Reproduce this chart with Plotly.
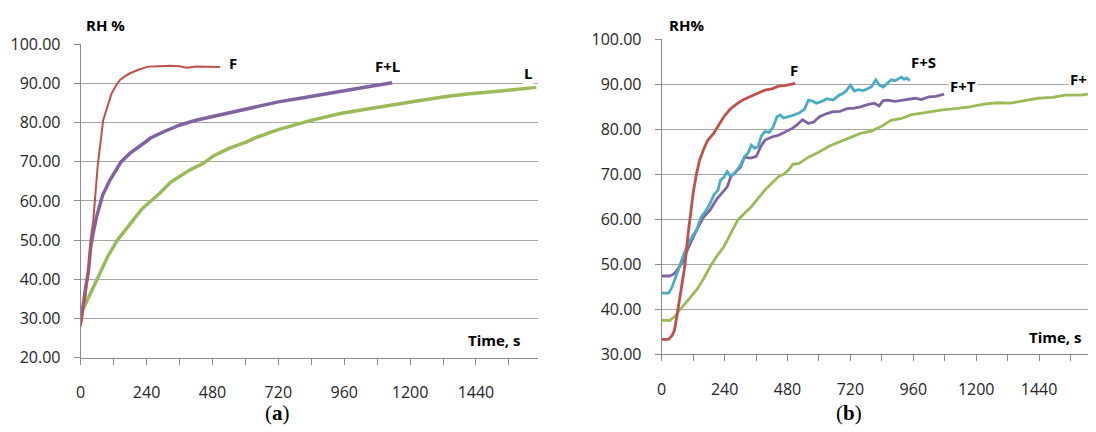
import plotly.graph_objects as go

# ---------------- data: panel (a) ----------------
a_F_t = [0, 8, 18, 30, 36, 46, 62, 82, 100, 113, 130, 143, 165, 180, 210, 246, 290, 325, 360, 386, 422, 460, 508]
a_F_rh = [27.9, 31.5, 36, 44, 50, 55.2, 69, 80.7, 85.0, 87.5, 89.6, 90.9, 92.0, 92.6, 93.5, 94.3, 94.4, 94.5, 94.4, 94.0, 94.3, 94.3, 94.2]

a_FL_t = [0, 8, 17, 28, 36, 46, 58, 80, 107, 147, 180, 237, 253, 300, 362, 420, 508, 580, 653, 720, 800, 880, 950, 1040, 1135]
a_FL_rh = [29, 33.5, 37.3, 42, 48, 52, 56, 61.5, 65.4, 70.0, 72.2, 75.1, 76.0, 77.6, 79.4, 80.6, 82.0, 83.1, 84.3, 85.3, 86.2, 87.2, 88.2, 89.1, 90.2]

a_L_t = [10, 40, 69, 100, 134, 192, 224, 289, 328, 400, 447, 483, 540, 605, 639, 720, 800, 836, 950, 1040, 1131, 1230, 1326, 1407, 1520, 1600, 1660]
a_L_rh = [32.6, 37, 41.6, 46, 50.0, 55.2, 58.0, 62.0, 64.8, 68.0, 69.6, 71.5, 73.4, 75.1, 76.2, 78.2, 79.8, 80.5, 82.4, 83.5, 84.5, 85.6, 86.6, 87.3, 88.0, 88.5, 89.0]

a_labels = ["F", "F+L", "L"]
a_label_t = [555, 1116, 1630]
a_label_rh = [95.3, 94.5, 92.6]

# ---------------- data: panel (b) ----------------
b_F_t = [0, 26, 40, 49, 58, 68, 78, 88, 101, 110, 120, 133, 145, 159, 175, 198, 215, 237, 260, 290, 315, 342, 370, 394, 420, 446, 470, 490, 509]
b_F_rh = [33.3, 33.3, 34.2, 35.4, 38.5, 42.1, 45.8, 49.5, 56.9, 61.5, 65.8, 70.2, 73.2, 75.4, 77.5, 79.1, 80.6, 82.8, 84.4, 85.8, 86.7, 87.4, 88.1, 88.7, 89.0, 89.6, 89.7, 90.0, 90.2]

b_FS_t = [0, 27, 40, 55, 68, 81, 100, 120, 133, 150, 170, 185, 200, 215, 224, 238, 250, 262, 280, 300, 316, 330, 342, 355, 368, 380, 394, 410, 425, 440, 452, 465, 480, 500, 524, 545, 560, 576, 590, 610, 630, 654, 675, 693, 705, 720, 735, 750, 770, 784, 800, 817, 830, 845, 862, 876, 890, 905, 915, 925, 935, 947]
b_FS_rh = [43.6, 43.6, 45, 47.2, 49.5, 51.7, 54.5, 56.5, 57.6, 60.5, 62, 63.6, 65.5, 66.5, 68.7, 69.4, 70.6, 69.6, 70.3, 72, 73.9, 74.8, 76.5, 75.8, 76.2, 78.5, 79.5, 79.3, 80.5, 82.8, 83.2, 82.5, 82.7, 83.1, 83.6, 84.5, 86.5, 86.3, 85.8, 86.2, 86.8, 86.5, 87.5, 88, 88.6, 89.8, 88.5, 88.8, 88.6, 89, 89.4, 91, 89.8, 89.4, 90.3, 91, 90.8, 91.3, 91.6, 91.1, 91.4, 90.8]

b_FT_t = [0, 30, 45, 55, 68, 81, 100, 133, 160, 185, 210, 237, 250, 264, 280, 300, 316, 340, 361, 378, 394, 420, 446, 470, 498, 515, 537, 560, 580, 602, 630, 654, 680, 707, 735, 758, 785, 811, 830, 845, 863, 890, 920, 945, 967, 990, 1019, 1045, 1078]
b_FT_rh = [47.4, 47.4, 47.8, 48.4, 49.5, 50.6, 53.5, 57.6, 60.5, 62.1, 64.5, 66.5, 67.2, 69.5, 70.4, 71.5, 73.8, 73.6, 74.0, 76.2, 77.6, 78.3, 78.7, 79.4, 80.2, 80.9, 82.1, 81.3, 81.6, 82.8, 83.5, 83.9, 84.0, 84.6, 84.7, 85.0, 85.5, 85.8, 85.2, 86.4, 86.5, 86.2, 86.5, 86.6, 86.9, 86.6, 87.2, 87.3, 87.8]

b_FL_t = [0, 30, 50, 68, 100, 133, 160, 185, 210, 237, 260, 290, 315, 342, 370, 394, 420, 446, 465, 485, 500, 524, 560, 602, 640, 680, 720, 758, 800, 837, 875, 915, 950, 993, 1030, 1071, 1120, 1175, 1230, 1280, 1330, 1380, 1436, 1490, 1540, 1600, 1657]
b_FL_rh = [37.6, 37.5, 38.4, 39.8, 42, 44.3, 46.8, 49.5, 51.8, 53.9, 56.5, 59.8, 61.3, 62.8, 64.8, 66.5, 68.0, 69.5, 70.0, 71.0, 72.2, 72.4, 73.8, 75.0, 76.3, 77.2, 78.2, 79.1, 79.6, 80.6, 82.0, 82.4, 83.2, 83.6, 83.8, 84.3, 84.6, 85.0, 85.6, 85.9, 85.8, 86.3, 86.9, 87.1, 87.6, 87.6, 88.1]

b_labels = ["F", "F+S", "F+T", "F+L"]
b_label_t = [504, 1000, 1150, 1605]
b_label_rh = [93.2, 95.0, 89.6, 91.1]

x_tick_vals = [0, 240, 480, 720, 960, 1200, 1440]

RED = "#C0504D"
PURPLE = "#8064A2"
GREEN = "#9BBB59"
CYAN = "#4BACC6"

FONT = "Open Sans"
GRID = "#a6a6a6"
AXIS = "#8c8c8c"

W, H = 1096, 432
OFF = 8  # page body margin offsets the figure by this many pixels


def px(xs):
    return (xs - OFF) / W


def py(ys):
    return 1 - (ys - OFF) / H


fig = go.Figure()


def add_line(t, rh, color, width, xa, ya):
    fig.add_trace(go.Scatter(x=t, y=rh, mode="lines", xaxis=xa, yaxis=ya,
                             line=dict(color=color, width=width), showlegend=False,
                             hoverinfo="skip"))


add_line(a_L_t, a_L_rh, GREEN, 3.5, "x", "y")
add_line(a_FL_t, a_FL_rh, PURPLE, 3.5, "x", "y")
add_line(a_F_t, a_F_rh, RED, 2, "x", "y")

add_line(b_FL_t, b_FL_rh, GREEN, 2.8, "x2", "y2")
add_line(b_FT_t, b_FT_rh, PURPLE, 2.8, "x2", "y2")
add_line(b_FS_t, b_FS_rh, CYAN, 2.8, "x2", "y2")
add_line(b_F_t, b_F_rh, RED, 2.8, "x2", "y2")

xcommon = dict(
    tickmode="array", tickvals=x_tick_vals, ticktext=[str(v) for v in x_tick_vals],
    ticks="outside", ticklen=6, tickcolor=AXIS, tickwidth=1,
    minor=dict(dtick=120, tick0=0, ticks="outside", ticklen=6, tickcolor=AXIS, showgrid=False),
    showgrid=False, zeroline=False, showline=True, linecolor=AXIS, linewidth=1,
    tickfont=dict(family=FONT, size=16, color="#262626"), ticklabelstandoff=14,
    fixedrange=True, automargin=False,
)
ycommon = dict(
    dtick=10, tickformat=".2f", ticks="outside", ticklen=6, tickcolor=AXIS,
    showgrid=True, gridcolor=GRID, gridwidth=1, zeroline=False,
    showline=True, linecolor=AXIS, linewidth=1,
    tickfont=dict(family=FONT, size=16, color="#262626"), ticklabelstandoff=10,
    fixedrange=True, automargin=False,
)

fig.update_layout(
    width=W, height=H, margin=dict(l=0, r=0, t=0, b=0, autoexpand=False),
    paper_bgcolor="white", plot_bgcolor="white", showlegend=False,
    xaxis=dict(domain=[px(80.7), px(538)], range=[0, 1666], anchor="y", **xcommon),
    yaxis=dict(domain=[py(357.5), py(44.3)], range=[20, 100], anchor="x", **ycommon),
    xaxis2=dict(domain=[px(661.7), px(1096)], range=[0, 1657], anchor="y2", **xcommon),
    yaxis2=dict(domain=[py(354.3), py(39.3)], range=[30, 100], anchor="x2", **ycommon),
)

ann = []
lab_font = dict(family=FONT, size=15, color="#000000")
for txt, t, rh in zip(a_labels, a_label_t, a_label_rh):
    ann.append(dict(text="<b>%s</b>" % txt, x=t, y=rh, xref="x", yref="y", showarrow=False,
                    font=lab_font, bgcolor="white", borderpad=1))
for txt, t, rh in zip(b_labels, b_label_t, b_label_rh):
    ann.append(dict(text="<b>%s</b>" % txt, x=t, y=rh, xref="x2", yref="y2", showarrow=False,
                    font=lab_font, bgcolor="white", borderpad=1))

# axis titles
ann.append(dict(text="<b>RH %</b>", x=px(83.5), y=py(25), xref="paper", yref="paper",
                xanchor="left", yanchor="middle", showarrow=False, font=lab_font))
ann.append(dict(text="<b>Time, s</b>", x=px(523), y=py(340), xref="paper", yref="paper",
                xanchor="right", yanchor="middle", showarrow=False, font=lab_font))
ann.append(dict(text="<b>RH%</b>", x=px(667), y=py(25), xref="paper", yref="paper",
                xanchor="left", yanchor="middle", showarrow=False, font=lab_font))
ann.append(dict(text="<b>Time, s</b>", x=px(1084), y=py(337), xref="paper", yref="paper",
                xanchor="right", yanchor="middle", showarrow=False, font=lab_font))
# panel captions
cap_font = dict(family="Liberation Serif", size=21, color="#000000")
ann.append(dict(text="(<b>a</b>)", x=px(277), y=py(413), xref="paper", yref="paper",
                xanchor="center", yanchor="middle", showarrow=False, font=cap_font))
ann.append(dict(text="(<b>b</b>)", x=px(849), y=py(413), xref="paper", yref="paper",
                xanchor="center", yanchor="middle", showarrow=False, font=cap_font))

fig.update_layout(annotations=ann)
fig.write_html("out.html")
